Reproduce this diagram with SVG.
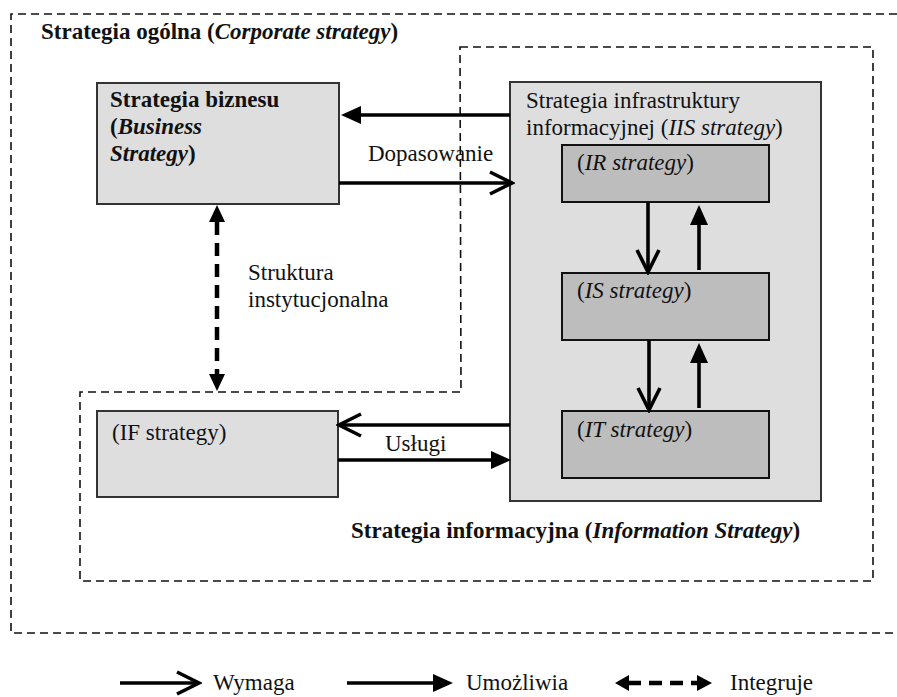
<svg xmlns="http://www.w3.org/2000/svg" width="897" height="697" viewBox="0 0 897 697">
  <style>
    text { font-family: "Liberation Serif", "Times New Roman", serif; font-size: 23px; fill: #111; }
    .b { font-weight: bold; }
    .i { font-style: italic; }
    .frame { fill: none; stroke: #111; stroke-width: 1.6; stroke-dasharray: 8 5; }
    .box { fill: #dedede; stroke: #333; stroke-width: 2; }
    .sub { fill: #bdbdbd; stroke: #111; stroke-width: 2; }
    .ln { fill: none; stroke: #000; stroke-width: 3.6; }
    .dash { fill: none; stroke: #000; stroke-width: 4.5; stroke-dasharray: 13 8; }
    .head { fill: #000; }
  </style>
  <defs>
    <!-- filled triangular head, drawn forward from the line end -->
    <marker id="solid" markerUnits="userSpaceOnUse" viewBox="0 0 20 18" refX="0" refY="9" markerWidth="20" markerHeight="18" orient="auto">
      <path d="M0,0 L20,9 L0,18 Z" fill="#000"/>
    </marker>
    <!-- open chevron head, tip at the line end -->
    <marker id="open" markerUnits="userSpaceOnUse" viewBox="-2 -2 28 28" refX="23" refY="12" markerWidth="28" markerHeight="28" orient="auto">
      <path d="M1,1 L23,12 L1,23" fill="none" stroke="#000" stroke-width="3.6"/>
    </marker>
  </defs>

  <!-- corporate strategy frame (open to the right) -->
  <g id="corporate">
    <path class="frame" d="M897,14 H11 V633 H897"/>
    <text class="b" x="41" y="39">Strategia ogólna (<tspan class="i">Corporate strategy</tspan>)</text>
  </g>

  <!-- information strategy frame -->
  <g id="information">
    <path class="frame" d="M460,47 H873 V581 H80 V392 H461 Z"/>
    <text class="b" x="351" y="538">Strategia informacyjna (<tspan class="i">Information Strategy</tspan>)</text>
  </g>

  <g id="business">
    <rect class="box" x="97" y="83" width="242" height="121"/>
    <text class="b" x="110" y="107">Strategia biznesu</text>
    <text class="b" x="110" y="134">(<tspan class="i">Business</tspan></text>
    <text class="b" x="110" y="161"><tspan class="i">Strategy</tspan>)</text>
  </g>

  <g id="iis">
    <rect class="box" x="510" y="82" width="311" height="419"/>
    <text x="526" y="108">Strategia infrastruktury</text>
    <text x="526" y="135">informacyjnej (<tspan class="i">IIS strategy</tspan>)</text>
  </g>

  <g id="ir">
    <rect class="sub" x="562" y="145" width="207" height="57"/>
    <text x="577" y="170">(<tspan class="i">IR strategy</tspan>)</text>
  </g>

  <g id="is">
    <rect class="sub" x="562" y="273" width="207" height="67"/>
    <text x="577" y="298">(<tspan class="i">IS strategy</tspan>)</text>
  </g>

  <g id="it">
    <rect class="sub" x="562" y="411" width="207" height="67"/>
    <text x="577" y="437">(<tspan class="i">IT strategy</tspan>)</text>
  </g>

  <g id="if">
    <rect class="box" x="97" y="411" width="241" height="86"/>
    <text x="112" y="440">(IF strategy)</text>
  </g>

  <g id="connectors">
    <!-- alignment between business and IIS -->
    <path class="ln" d="M510,115 H361" marker-end="url(#solid)"/>
    <path class="ln" d="M339,183 H512" marker-end="url(#open)"/>
    <text x="368" y="161">Dopasowanie</text>

    <!-- IR / IS / IT chain -->
    <path class="ln" d="M648,202 V272" marker-end="url(#open)"/>
    <path class="ln" d="M699,270 V225" marker-end="url(#solid)"/>
    <path class="ln" d="M649,340 V410" marker-end="url(#open)"/>
    <path class="ln" d="M699,408 V363" marker-end="url(#solid)"/>

    <!-- services between IIS and IF -->
    <path class="ln" d="M510,425 H339" marker-end="url(#open)"/>
    <path class="ln" d="M338,460 H491" marker-end="url(#solid)"/>
    <text x="385" y="451">Usługi</text>

    <!-- institutional structure -->
    <path class="dash" d="M217,222 V374"/>
    <path class="head" d="M217,205 L225,222 L209,222 Z M217,391 L225,374 L209,374 Z"/>
    <text x="248" y="280">Struktura</text>
    <text x="248" y="307">instytucjonalna</text>
  </g>

  <!-- legend -->
  <g id="legend">
    <path class="ln" d="M120,683 H199" marker-end="url(#open)"/>
    <text x="213" y="690">Wymaga</text>
    <path class="ln" d="M347,683 H433" marker-end="url(#solid)"/>
    <text x="466" y="690">Umożliwia</text>
    <path class="dash" d="M628,683 H697"/>
    <path class="head" d="M615,683 L629,675 L629,691 Z M712,683 L697,675 L697,691 Z"/>
    <text x="730" y="690">Integruje</text>
  </g>
</svg>
